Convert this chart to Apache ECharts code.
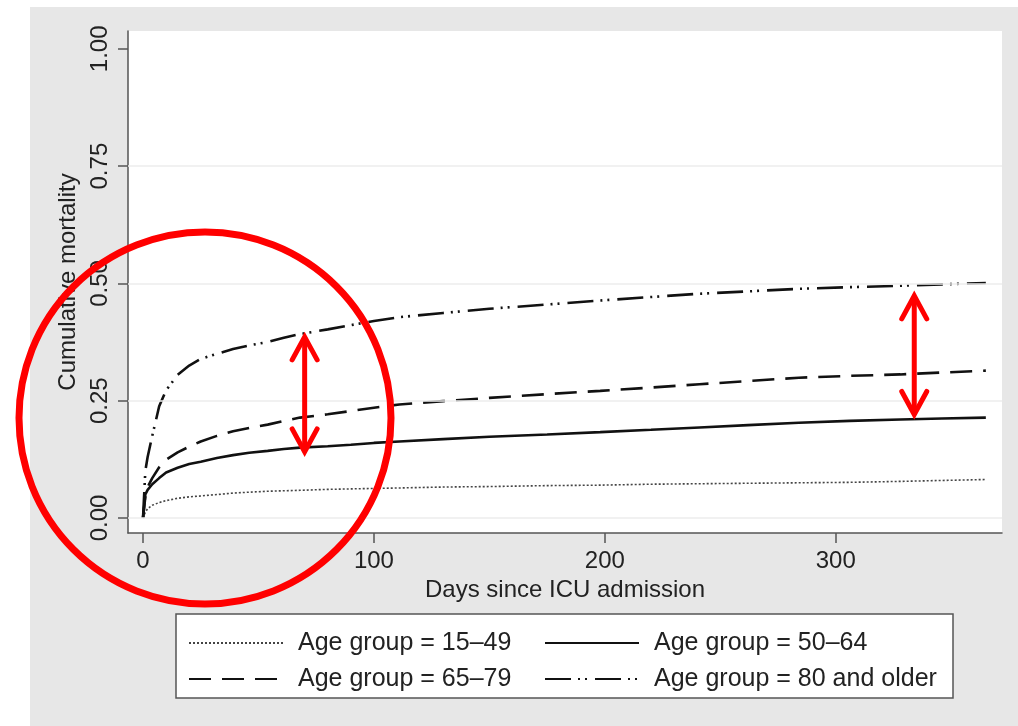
<!DOCTYPE html>
<html>
<head>
<meta charset="utf-8">
<script src="https://cdn.jsdelivr.net/npm/echarts@6/dist/echarts.min.js"></script>
<style>
html,body{margin:0;padding:0;background:#fff;}
#c{width:1018px;height:726px;}
</style>
</head>
<body>
<div id="c"></div>
<script>
// ---- data ----
const days = [0, 1, 2, 4, 7, 10, 15, 20, 25, 32, 39, 46, 54, 61, 68, 80, 90, 100, 111, 130, 150, 175, 198, 220, 241, 262, 284, 306, 328, 346, 365];
const age15to49 = [0, 0.012, 0.020, 0.027, 0.033, 0.037, 0.042, 0.045, 0.047, 0.050, 0.053, 0.055, 0.057, 0.058, 0.059, 0.061, 0.062, 0.063, 0.064, 0.066, 0.067, 0.069, 0.070, 0.072, 0.073, 0.074, 0.075, 0.076, 0.078, 0.080, 0.082];
const age50to64 = [0, 0.050, 0.060, 0.072, 0.085, 0.097, 0.107, 0.115, 0.120, 0.128, 0.134, 0.139, 0.143, 0.147, 0.150, 0.153, 0.156, 0.160, 0.163, 0.168, 0.173, 0.178, 0.183, 0.188, 0.193, 0.198, 0.203, 0.207, 0.210, 0.212, 0.214];
const age65to79 = [0, 0.045, 0.066, 0.085, 0.108, 0.124, 0.140, 0.152, 0.163, 0.175, 0.185, 0.192, 0.199, 0.207, 0.214, 0.221, 0.228, 0.235, 0.242, 0.249, 0.256, 0.264, 0.271, 0.278, 0.285, 0.292, 0.299, 0.303, 0.306, 0.310, 0.314];
const age80plus = [0, 0.100, 0.130, 0.175, 0.238, 0.272, 0.305, 0.325, 0.339, 0.350, 0.360, 0.368, 0.375, 0.384, 0.392, 0.402, 0.411, 0.420, 0.428, 0.437, 0.446, 0.455, 0.4635, 0.471, 0.478, 0.483, 0.4885, 0.492, 0.495, 0.498, 0.501];
const seriesNames = ['Age group = 15\u201349', 'Age group = 50\u201364', 'Age group = 65\u201379', 'Age group = 80 and older'];
const xTicks = [0, 100, 200, 300];
const yTicks = [0, 0.25, 0.5, 0.75, 1.0];
const yGrid = [0, 0.25, 0.5, 0.75];
// annotation arrows: [day, top value, bottom value]
const arrows = [[70, 0.386, 0.141], [334, 0.4735, 0.2207]];

const FONT = "'Liberation Sans', Arial, Helvetica, sans-serif";
const pair = arr => days.map((d, i) => [d, arr[i]]);

const chart = echarts.init(document.getElementById('c'), null, {renderer: 'canvas'});

const legendCommon = {
  show: true, orient: 'horizontal', padding: 0, itemGap: 0,
  itemWidth: 94, itemHeight: 30,
  itemStyle: {color: 'rgba(0,0,0,0)', borderWidth: 0, opacity: 0},
  textStyle: {fontSize: 25, fontFamily: FONT, color: '#222', padding: [0, 0, 0, 10], lineHeight: 30}
};

const option = {
  backgroundColor: '#ffffff',
  animation: false,
  grid: {left: 128, top: 31, width: 874, height: 502, show: true, backgroundColor: '#ffffff', borderWidth: 0, containLabel: false, outerBoundsMode: 'none'},
  xAxis: {
    type: 'value', min: -6.5, max: 372,
    axisLine: {show: true, onZero: false, lineStyle: {color: '#555', width: 1.5}},
    axisTick: {show: true, customValues: xTicks, length: 10, lineStyle: {color: '#555', width: 1.5}},
    axisLabel: {show: true, customValues: xTicks, fontSize: 24, fontFamily: FONT, color: '#222', margin: 16},
    splitLine: {show: false},
    name: 'Days since ICU admission', nameLocation: 'middle', nameGap: 40,
    nameTextStyle: {fontSize: 24, fontFamily: FONT, color: '#222'}
  },
  yAxis: {
    type: 'value', min: -0.032, max: 1.038,
    axisLine: {show: true, onZero: false, lineStyle: {color: '#555', width: 1.5}},
    axisTick: {show: true, customValues: yTicks, length: 10, lineStyle: {color: '#555', width: 1.5}},
    axisLabel: {show: true, customValues: yTicks, rotate: 90, fontSize: 24, fontFamily: FONT, color: '#222', margin: 16,
      formatter: v => Number(v).toFixed(2)},
    splitLine: {show: false},
    name: 'Cumulative mortality', nameLocation: 'middle', nameGap: 37, nameRotate: 90,
    nameTextStyle: {fontSize: 24, fontFamily: FONT, color: '#222'}
  },
  legend: [
    Object.assign({}, legendCommon, {data: [seriesNames[0]], left: 188, top: 628}),
    Object.assign({}, legendCommon, {data: [seriesNames[1]], left: 544, top: 628}),
    Object.assign({}, legendCommon, {data: [seriesNames[2]], left: 188, top: 664}),
    Object.assign({}, legendCommon, {data: [seriesNames[3]], left: 544, top: 664})
  ],
  series: [
    {name: seriesNames[0], type: 'line', data: pair(age15to49), showSymbol: false, symbol: 'none',
      lineStyle: {color: '#444', width: 1.6, type: [2, 2]}, itemStyle: {color: '#444'}, z: 3,
      markLine: {silent: true, symbol: 'none', label: {show: false},
        lineStyle: {color: '#ececec', width: 1.5, type: 'solid'},
        data: yGrid.map(v => ({yAxis: v}))}},
    {name: seriesNames[1], type: 'line', data: pair(age50to64), showSymbol: false, symbol: 'none',
      lineStyle: {color: '#111', width: 2.6, type: 'solid'}, itemStyle: {color: '#111'}, z: 3},
    {name: seriesNames[2], type: 'line', data: pair(age65to79), showSymbol: false, symbol: 'none',
      lineStyle: {color: '#111', width: 2.6, type: [22, 11]}, itemStyle: {color: '#111'}, z: 3},
    {name: seriesNames[3], type: 'line', data: pair(age80plus), showSymbol: false, symbol: 'none',
      lineStyle: {color: '#111', width: 2.6, type: [26, 7, 2, 5, 2, 8]}, itemStyle: {color: '#111'}, z: 3}
  ],
  graphic: [
    {type: 'rect', id: 'panel', z: -100, silent: true, shape: {x: 30, y: 7, width: 988, height: 719}, style: {fill: '#e7e7e7'}},
    {type: 'rect', id: 'legendBox', z: 1, silent: true, shape: {x: 176, y: 614, width: 777, height: 84}, style: {fill: '#ffffff', stroke: '#555', lineWidth: 1.5}}
  ]
};
chart.setOption(option);

// Red annotations (circle + double-headed arrows placed through the axes' scales)
const red = '#ff0000';
const extra = [];
extra.push({type: 'circle', id: 'ring', z: 200, silent: true, shape: {cx: 205, cy: 418, r: 186},
  style: {fill: 'none', stroke: red, lineWidth: 7}});
arrows.forEach((a, i) => {
  const top = chart.convertToPixel({gridIndex: 0}, [a[0], a[1]]);
  const bot = chart.convertToPixel({gridIndex: 0}, [a[0], a[2]]);
  const x = top[0];
  extra.push({type: 'line', id: 'ar' + i, z: 200, silent: true,
    shape: {x1: x, y1: top[1] + 2, x2: x, y2: bot[1] - 2}, style: {stroke: red, lineWidth: 5}});
  extra.push({type: 'polyline', id: 'at' + i, z: 200, silent: true,
    shape: {points: [[x - 12.5, top[1] + 23], [x, top[1]], [x + 12.5, top[1] + 23]]},
    style: {fill: 'none', stroke: red, lineWidth: 5, lineCap: 'round', lineJoin: 'miter'}});
  extra.push({type: 'polyline', id: 'ab' + i, z: 200, silent: true,
    shape: {points: [[x - 12.5, bot[1] - 23], [x, bot[1]], [x + 12.5, bot[1] - 23]]},
    style: {fill: 'none', stroke: red, lineWidth: 5, lineCap: 'round', lineJoin: 'miter'}});
});
chart.setOption({graphic: extra});
</script>
</body>
</html>
